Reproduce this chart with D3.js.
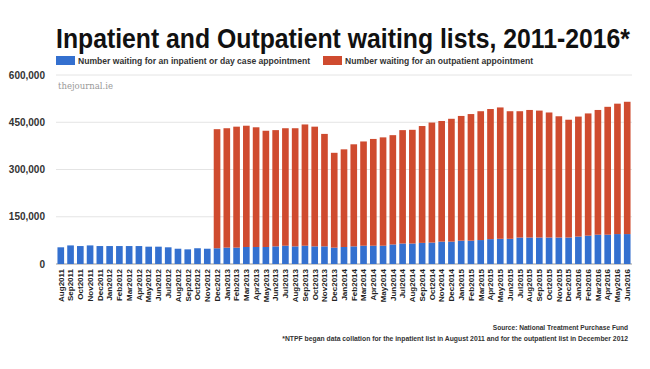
<!DOCTYPE html>
<html>
<head>
<meta charset="utf-8">
<script src="https://cdn.jsdelivr.net/npm/d3@7"></script>
<style>
  body { margin: 0; background: #fff; }
  svg { display: block; }
</style>
</head>
<body>
<div class="chart"></div>
<script>
const months = ["Aug2011","Sep2011","Oct2011","Nov2011","Dec2011",
  "Jan2012","Feb2012","Mar2012","Apr2012","May2012","Jun2012","Jul2012","Aug2012","Sep2012","Oct2012","Nov2012","Dec2012",
  "Jan2013","Feb2013","Mar2013","Apr2013","May2013","Jun2013","Jul2013","Aug2013","Sep2013","Oct2013","Nov2013","Dec2013",
  "Jan2014","Feb2014","Mar2014","Apr2014","May2014","Jun2014","Jul2014","Aug2014","Sep2014","Oct2014","Nov2014","Dec2014",
  "Jan2015","Feb2015","Mar2015","Apr2015","May2015","Jun2015","Jul2015","Aug2015","Sep2015","Oct2015","Nov2015","Dec2015",
  "Jan2016","Feb2016","Mar2016","Apr2016","May2016","Jun2016"];

// number waiting for an inpatient or day case appointment
const inpatient = [53000,59000,57000,59000,57000,
  57000,57000,57000,57000,55000,55000,53000,48500,46500,50000,48500,50000,
  52000,52000,54000,54000,54000,56000,58000,56000,58000,56000,56000,52000,
  54000,56000,58000,58000,58000,62000,65000,65000,67000,68000,71000,71000,
  74000,74000,76000,79000,80000,80000,84000,84000,84000,84000,84000,84000,
  87000,90000,93000,93000,95000,95000];

// number waiting for an outpatient appointment (collected from Dec 2012)
const outpatient = [0,0,0,0,0,
  0,0,0,0,0,0,0,0,0,0,0,378000,
  379000,384000,385000,380000,369000,369000,373000,375000,385000,380000,357000,301000,
  310000,324000,331000,339000,344000,347000,360000,361000,371000,381000,383000,390000,
  396000,402000,409000,413000,417000,405000,401000,405000,403000,397000,385000,374000,
  381000,388000,396000,406000,414000,420000];

const yTicks = [0, 150000, 300000, 450000, 600000];

const seriesNames = ["Number waiting for an inpatient or day case appointment",
                     "Number waiting for an outpatient appointment"];
const colors = ["#3470cf", "#cf4b2f"];

const draw = () => {
    const W = 650, H = 369;
    const margin = {top: 75, right: 18, bottom: 105, left: 56};
    const width = W - margin.left - margin.right;
    const height = H - margin.top - margin.bottom;

    const data = months.map((m, i) => ({month: m, inpatient: inpatient[i], outpatient: outpatient[i]}));
    const stack = d3.stack().keys(["inpatient", "outpatient"])(data);

    const svg = d3.select('.chart')
        .append('svg')
        .attr('width', W)
        .attr('height', H);

    // title (smaller font stretched vertically so it fits the width)
    svg.append("text")
        .attr("transform", "translate(56,48) scale(1,1.17)")
        .attr("font-family", "Liberation Sans, Arial, sans-serif")
        .attr("font-weight", "bold")
        .attr("font-size", 23)
        .attr("fill", "#111")
        .attr("textLength", 574)
        .attr("lengthAdjust", "spacingAndGlyphs")
        .text("Inpatient and Outpatient waiting lists, 2011-2016*");

    // legend
    const legendX = [56, 323];
    const legendW = [232, 188];
    seriesNames.forEach((name, i) => {
        svg.append("rect")
            .attr("x", legendX[i])
            .attr("y", 56)
            .attr("width", 19)
            .attr("height", 9)
            .attr("fill", colors[i]);
        svg.append("text")
            .attr("x", legendX[i] + 22)
            .attr("y", 64)
            .attr("font-family", "Liberation Sans, Arial, sans-serif")
            .attr("font-weight", "bold")
            .attr("font-size", 8.5)
            .attr("fill", "#333")
            .attr("textLength", legendW[i])
            .attr("lengthAdjust", "spacingAndGlyphs")
            .text(name);
    });

    const g = svg.append("g")
        .attr("transform", "translate(" + margin.left + "," + margin.top + ")");

    const xScale = d3.scaleBand()
        .domain(months)
        .range([0, width])
        .paddingInner(0.32)
        .paddingOuter(0.15);

    const yScale = d3.scaleLinear()
        .domain([0, 600000])
        .range([height, 0]);

    // gridlines
    g.selectAll(".grid")
        .data(yTicks)
        .enter()
        .append("line")
        .attr("class", "grid")
        .attr("x1", 0)
        .attr("x2", width)
        .attr("y1", d => yScale(d))
        .attr("y2", d => yScale(d))
        .attr("stroke", d => d === 0 ? "#999" : "#e4e4e4")
        .attr("stroke-width", 1);

    // y axis labels
    const yAxis = g.append("g")
        .call(d3.axisLeft(yScale).tickValues(yTicks).tickSize(0).tickPadding(11)
            .tickFormat(d3.format(",")));
    yAxis.select(".domain").remove();
    yAxis.selectAll("text")
        .attr("font-family", "Liberation Sans, Arial, sans-serif")
        .attr("font-weight", "bold")
        .attr("font-size", 10)
        .attr("fill", "#333");

    // watermark
    g.append("text")
        .attr("x", 2)
        .attr("y", 14)
        .attr("font-family", "DejaVu Serif, Liberation Serif, serif")
        .attr("font-size", 8.5)
        .attr("fill", "#999")
        .text("thejournal.ie");

    // bars
    g.selectAll(".series")
        .data(stack)
        .enter()
        .append("g")
        .attr("class", "series")
        .attr("fill", (d, i) => colors[i])
        .selectAll("rect")
        .data(d => d.filter(p => p[1] - p[0] > 0))
        .enter()
        .append("rect")
        .attr("x", d => xScale(d.data.month))
        .attr("y", d => yScale(d[1]))
        .attr("width", xScale.bandwidth())
        .attr("height", d => yScale(d[0]) - yScale(d[1]));

    // x axis labels
    const xAxis = g.append("g")
        .attr("transform", "translate(0," + height + ")")
        .call(d3.axisBottom(xScale).tickSize(0).tickPadding(0));
    xAxis.select(".domain").remove();
    xAxis.selectAll("text")
        .attr("font-family", "Liberation Sans, Arial, sans-serif")
        .attr("font-weight", "bold")
        .attr("font-size", 8)
        .attr("fill", "#222")
        .attr("text-anchor", "end")
        .attr("transform", "rotate(-90)")
        .attr("x", -5)
        .attr("y", 0)
        .attr("dy", "0.35em");

    // source and footnote
    svg.append("text")
        .attr("x", 628)
        .attr("y", 330)
        .attr("text-anchor", "end")
        .attr("font-family", "Liberation Sans, Arial, sans-serif")
        .attr("font-weight", "bold")
        .attr("font-size", 6.6)
        .attr("fill", "#333")
        .text("Source: National Treatment Purchase Fund");

    svg.append("text")
        .attr("x", 628)
        .attr("y", 341)
        .attr("text-anchor", "end")
        .attr("font-family", "Liberation Sans, Arial, sans-serif")
        .attr("font-weight", "bold")
        .attr("font-size", 6.8)
        .attr("fill", "#333")
        .text("*NTPF began data collation for the inpatient list in August 2011 and for the outpatient list in December 2012");
}

draw();
</script>
</body>
</html>
